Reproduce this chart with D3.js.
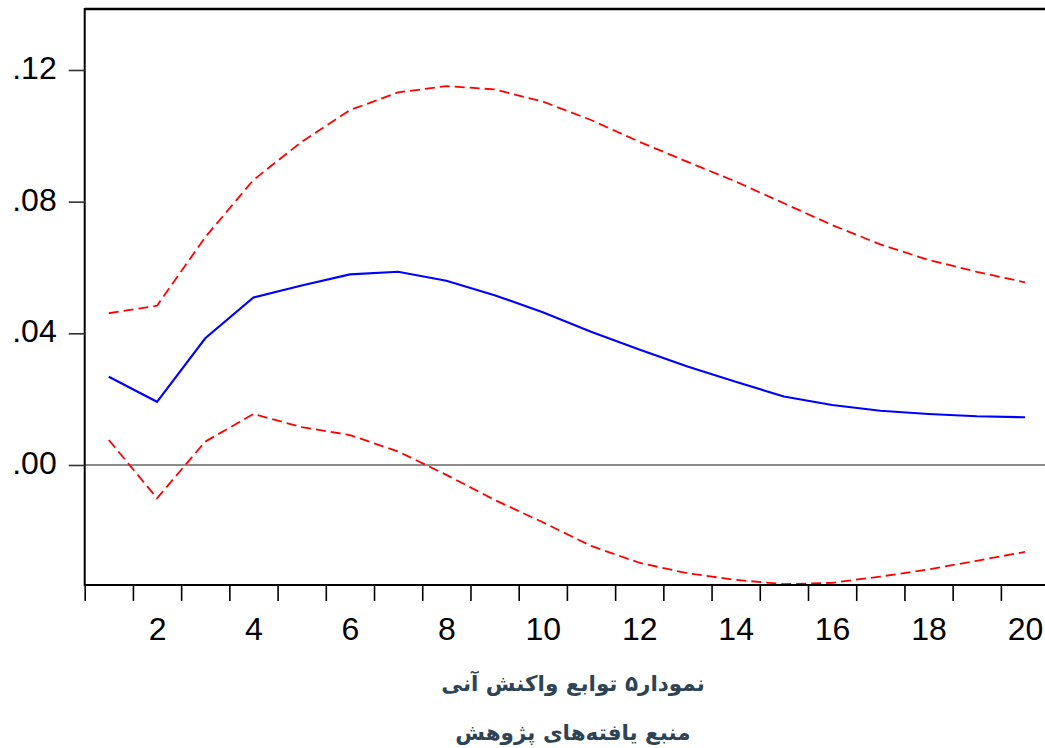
<!DOCTYPE html>
<html>
<head>
<meta charset="utf-8">
<script src="https://cdn.jsdelivr.net/npm/d3@7"></script>
<style>
  html, body { margin: 0; padding: 0; background: #fff; overflow: hidden; }
  svg { display: block; }
</style>
</head>
<body>
<svg id="chart" width="1045" height="748"></svg>
<script>
// Impulse response over 20 periods with ±2 S.E. bands
const periods = d3.range(1, 21);
const response = [0.0268, 0.0192, 0.0385, 0.0509, 0.0545, 0.0579, 0.0587, 0.0560, 0.0516, 0.0464,
                  0.0405, 0.0351, 0.0299, 0.0253, 0.0208, 0.0182, 0.0165, 0.0155, 0.0148, 0.0145];
const upperBand = [0.0461, 0.0484, 0.0692, 0.0866, 0.0982, 0.1078, 0.1132, 0.1151, 0.1141, 0.1104,
                   0.1048, 0.0982, 0.0921, 0.0861, 0.0795, 0.0729, 0.0670, 0.0623, 0.0587, 0.0555];
const lowerBand = [0.0076, -0.0101, 0.0071, 0.0155, 0.0115, 0.0091, 0.0041, -0.0030, -0.0106, -0.0174,
                   -0.0246, -0.0297, -0.0329, -0.0349, -0.0362, -0.0358, -0.0339, -0.0317, -0.0291, -0.0264];
const yTicks = [0, 0.04, 0.08, 0.12];
const xLabelTicks = [2, 4, 6, 8, 10, 12, 14, 16, 18, 20];
const xMinorTicks = d3.range(0.5, 20.5, 1);
const titleLines = ["نمودار۵ توابع واکنش آنی", "منبع یافته‌های پژوهش"];

const svg = d3.select("#chart");
const plotLeft = 84.7, plotTop = 9, plotBottom = 585;

const x = d3.scaleLinear().domain([0.5, 20.5]).range([plotLeft, plotLeft + 20 * 48.22]);
const y = d3.scaleLinear().domain([-0.03646, 0.13853]).range([plotBottom, plotTop]);

// zero reference line
svg.append("line")
  .attr("x1", plotLeft).attr("x2", 1045)
  .attr("y1", y(0)).attr("y2", y(0))
  .attr("stroke", "#666").attr("stroke-width", 1.6);

// series
const line = d3.line().x((d, i) => x(periods[i])).y(d => y(d));

svg.append("path").datum(upperBand)
  .attr("d", line).attr("fill", "none")
  .attr("stroke", "#ff0000").attr("stroke-width", 1.8)
  .attr("stroke-dasharray", "10,5");

svg.append("path").datum(lowerBand)
  .attr("d", line).attr("fill", "none")
  .attr("stroke", "#ff0000").attr("stroke-width", 1.8)
  .attr("stroke-dasharray", "10,5");

svg.append("path").datum(response)
  .attr("d", line).attr("fill", "none")
  .attr("stroke", "#0000ff").attr("stroke-width", 2.1);

// frame: top border, left axis, bottom axis
svg.append("line").attr("x1", plotLeft).attr("x2", 1045).attr("y1", plotTop).attr("y2", plotTop)
  .attr("stroke", "#000").attr("stroke-width", 2.5);
svg.append("line").attr("x1", plotLeft).attr("x2", 1045).attr("y1", plotBottom).attr("y2", plotBottom)
  .attr("stroke", "#000").attr("stroke-width", 2);
svg.append("line").attr("x1", plotLeft).attr("x2", plotLeft).attr("y1", plotTop - 1).attr("y2", plotBottom + 1)
  .attr("stroke", "#000").attr("stroke-width", 2);

// y axis ticks and labels
const yAxis = svg.append("g")
  .attr("transform", `translate(${plotLeft},0)`)
  .call(d3.axisLeft(y).tickValues(yTicks).tickSize(16).tickPadding(12)
        .tickFormat(d => d3.format(".2f")(d).replace(/^0/, "")));
yAxis.select(".domain").remove();
yAxis.selectAll(".tick line").attr("stroke", "#333").attr("stroke-width", 1.6);
yAxis.selectAll(".tick text")
  .attr("font-family", "'Liberation Sans', Arial, sans-serif")
  .attr("font-size", 32).attr("dy", "0.27em").attr("fill", "#000");

// x axis: ticks between periods, labels on even periods
const xAxis = svg.append("g")
  .attr("transform", `translate(0,${plotBottom})`)
  .call(d3.axisBottom(x).tickValues(xMinorTicks).tickSize(16).tickFormat(""));
xAxis.select(".domain").remove();
xAxis.selectAll(".tick line").attr("stroke", "#000").attr("stroke-width", 1.6);

const xLabels = svg.append("g")
  .attr("transform", `translate(0,${plotBottom})`)
  .call(d3.axisBottom(x).tickValues(xLabelTicks).tickSize(0).tickPadding(32));
xLabels.select(".domain").remove();
xLabels.selectAll(".tick text")
  .attr("font-family", "'Liberation Sans', Arial, sans-serif")
  .attr("font-size", 32).attr("fill", "#000");

// caption lines
svg.selectAll(".caption").data(titleLines).enter().append("text")
  .attr("class", "caption")
  .attr("x", 573).attr("y", (d, i) => 691 + i * 49)
  .attr("text-anchor", "middle")
  .attr("direction", "rtl")
  .attr("font-family", "'DejaVu Sans', sans-serif")
  .attr("font-weight", "bold")
  .attr("font-size", 21.5)
  .attr("fill", "#2d4456")
  .text(d => d);
</script>
</body>
</html>
